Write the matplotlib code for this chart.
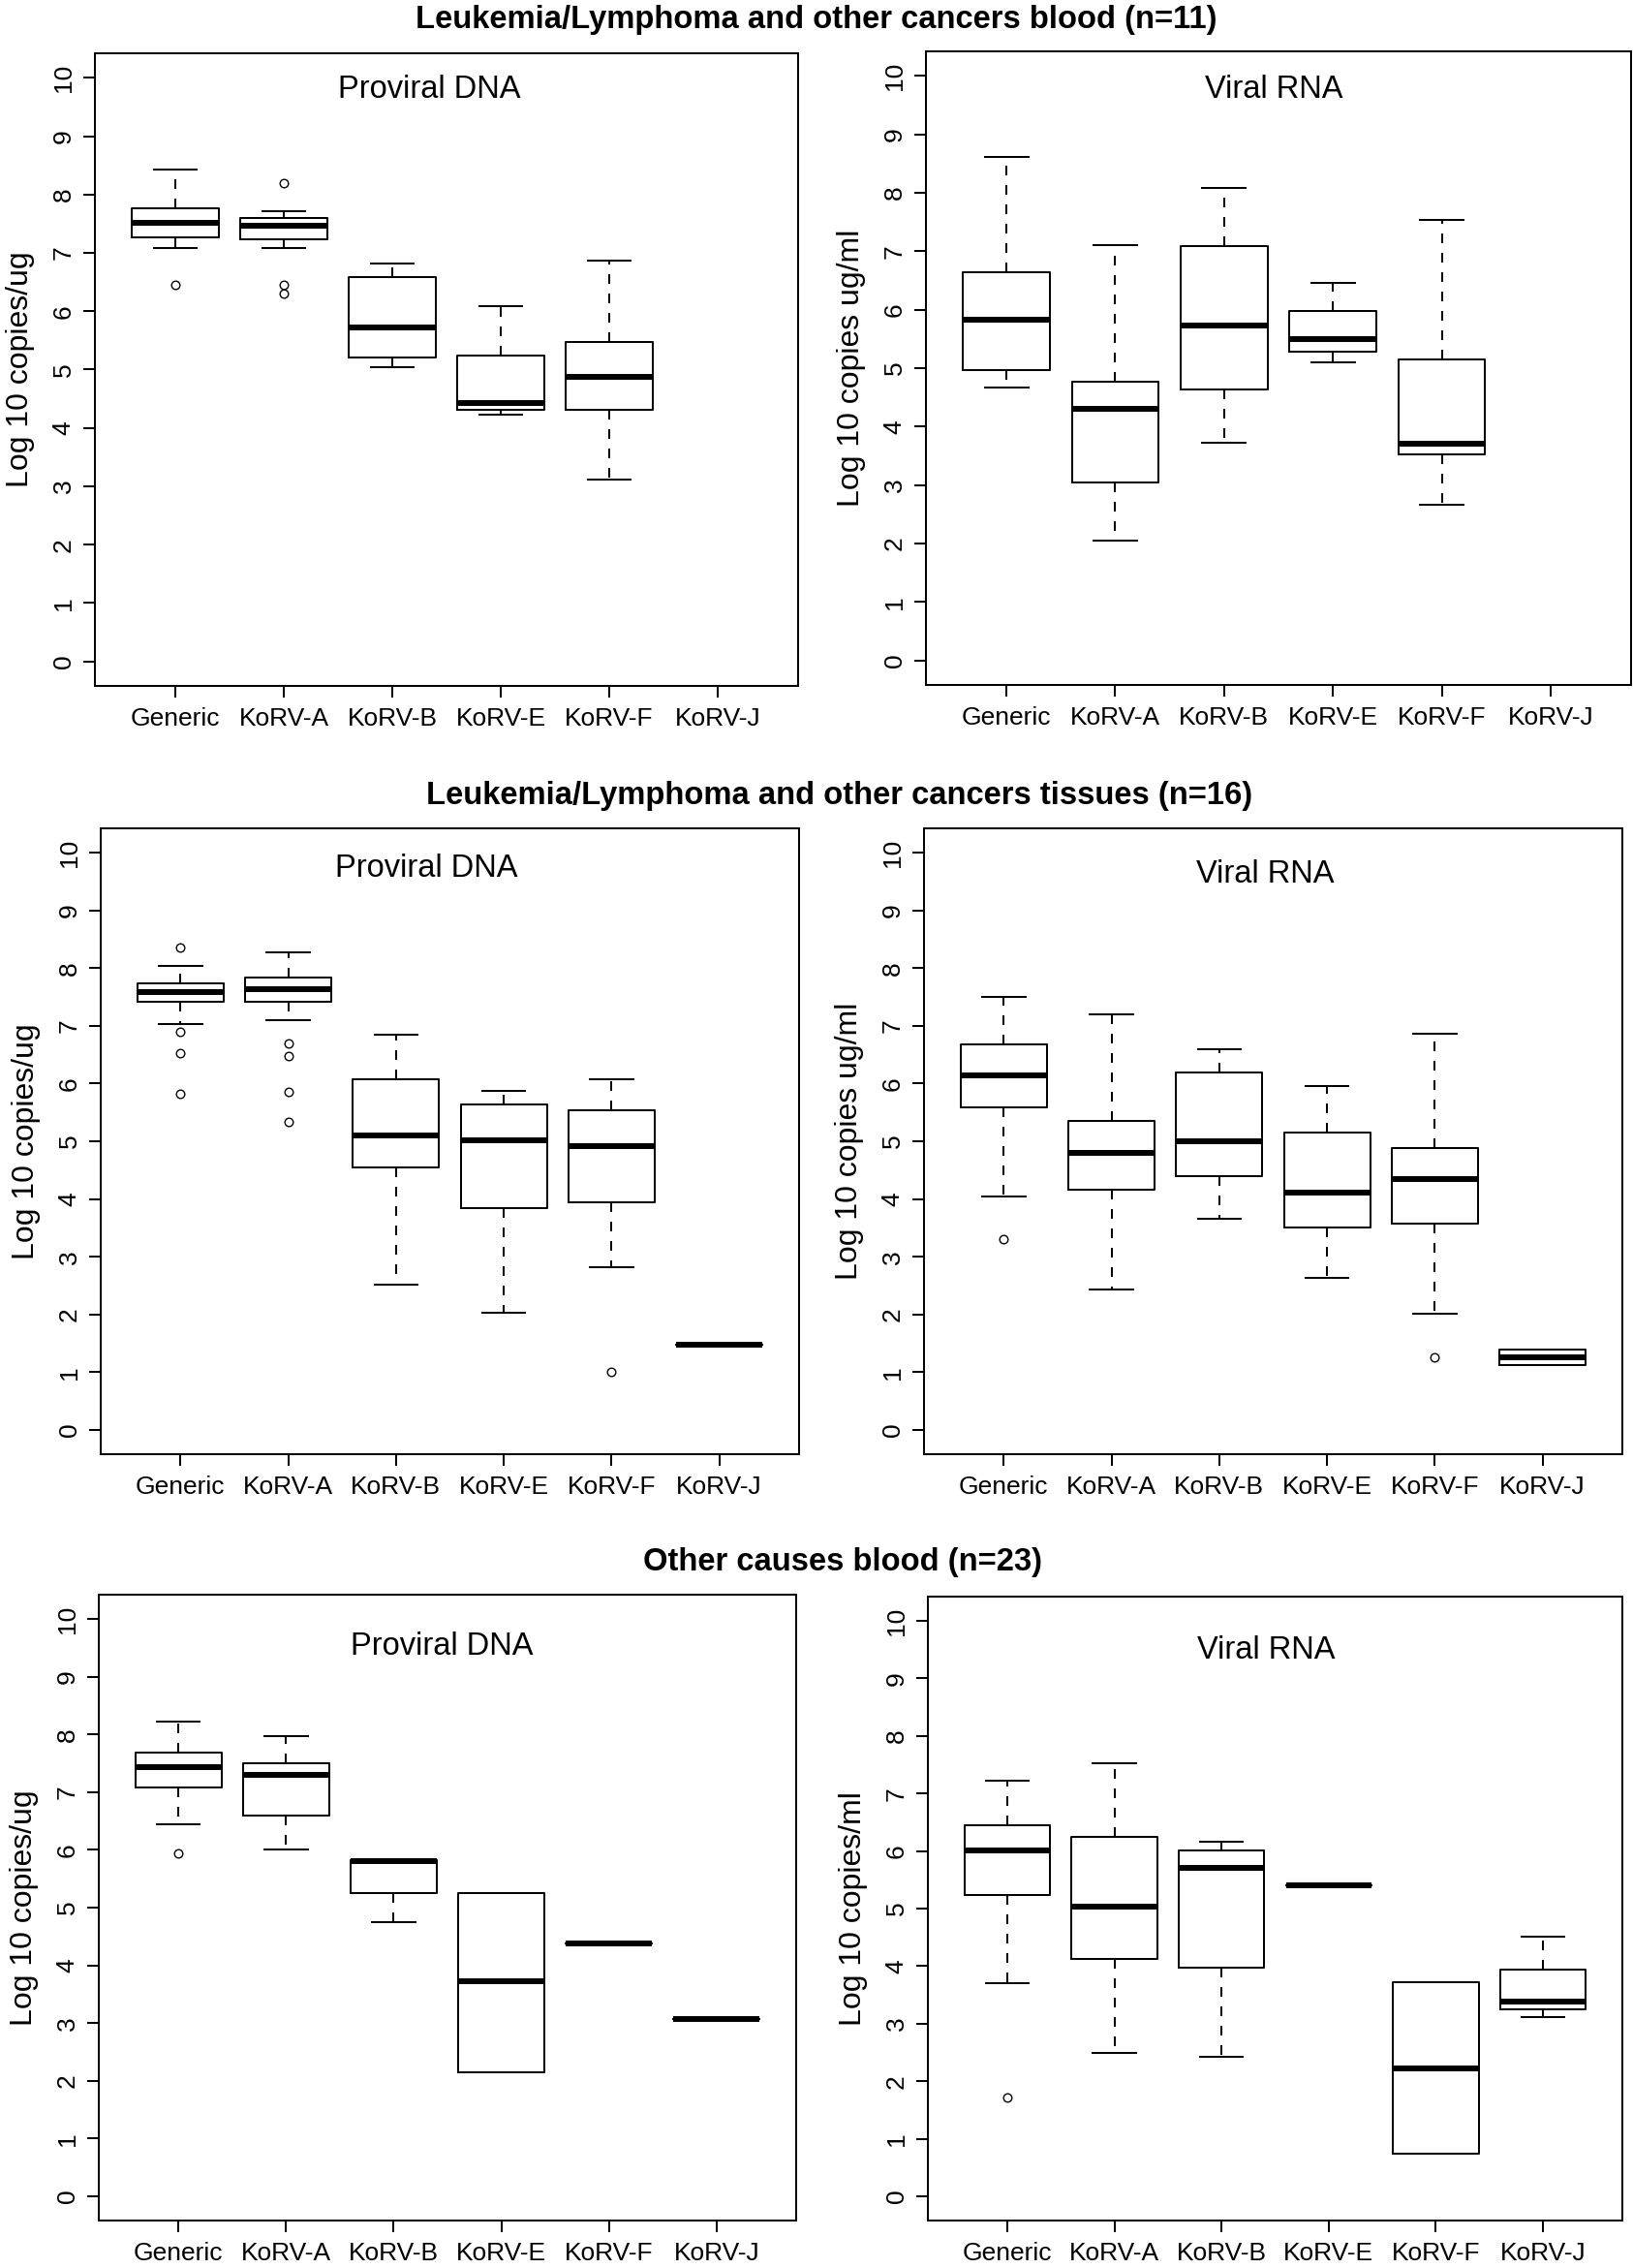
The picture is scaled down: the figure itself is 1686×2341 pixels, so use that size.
import matplotlib
matplotlib.use("Agg")
import matplotlib.pyplot as plt

plt.rcParams['font.family'] = ['Liberation Sans', 'DejaVu Sans']

# ---------------- data ----------------
categories = ["Generic", "KoRV-A", "KoRV-B", "KoRV-E", "KoRV-F", "KoRV-J"]
y_ticks = [0, 1, 2, 3, 4, 5, 6, 7, 8, 9, 10]

row_titles = ["Leukemia/Lymphoma and other cancers blood (n=11)",
              "Leukemia/Lymphoma and other cancers tissues (n=16)",
              "Other causes blood (n=23)"]
panel_labels = ["Proviral DNA", "Viral RNA", "Proviral DNA", "Viral RNA",
                "Proviral DNA", "Viral RNA"]
y_labels = ["Log 10 copies/ug", "Log 10 copies ug/ml", "Log 10 copies/ug",
            "Log 10 copies ug/ml", "Log 10 copies/ug", "Log 10 copies/ml"]

# five-number summaries per category: (lower whisker, Q1, median, Q3, upper whisker)
blood_dna = [(7.09, 7.26, 7.52, 7.77, 8.42), (7.09, 7.24, 7.47, 7.59, 7.72),
             (5.04, 5.21, 5.72, 6.58, 6.81), (4.23, 4.31, 4.42, 5.24, 6.08),
             (3.12, 4.31, 4.87, 5.47, 6.87), None]
blood_dna_out = [[6.45], [8.20, 6.45, 6.31], [], [], [], []]

blood_rna = [(4.67, 4.97, 5.83, 6.64, 8.61), (2.05, 3.04, 4.30, 4.76, 7.11),
             (3.73, 4.63, 5.73, 7.09, 8.08), (5.10, 5.29, 5.49, 5.98, 6.46),
             (2.66, 3.53, 3.71, 5.15, 7.53), None]
blood_rna_out = [[], [], [], [], [], []]

tissue_dna = [(7.03, 7.41, 7.58, 7.73, 8.03), (7.09, 7.42, 7.64, 7.83, 8.28),
              (2.52, 4.55, 5.10, 6.08, 6.84), (2.03, 3.84, 5.01, 5.63, 5.88),
              (2.82, 3.94, 4.92, 5.53, 6.07), (1.47, 1.47, 1.47, 1.47, 1.47)]
tissue_dna_out = [[8.36, 6.90, 6.53, 5.83], [6.70, 6.48, 5.85, 5.34], [], [], [1.01], []]

tissue_rna = [(4.04, 5.59, 6.14, 6.68, 7.50), (2.43, 4.16, 4.80, 5.36, 7.19),
              (3.66, 4.40, 5.00, 6.19, 6.59), (2.64, 3.51, 4.11, 5.15, 5.95),
              (2.01, 3.57, 4.35, 4.89, 6.86), (1.12, 1.12, 1.25, 1.39, 1.39)]
tissue_rna_out = [[3.30], [], [], [], [1.25], []]

other_dna = [(6.44, 7.08, 7.43, 7.69, 8.23), (6.01, 6.60, 7.30, 7.50, 7.97),
             (4.75, 5.26, 5.80, 5.82, 5.82), (2.14, 2.14, 3.72, 5.25, 5.25),
             (4.38, 4.38, 4.38, 4.38, 4.38), (3.07, 3.07, 3.07, 3.07, 3.07)]
other_dna_out = [[5.94], [], [], [], [], []]

other_rna = [(3.71, 5.23, 6.01, 6.44, 7.22), (2.49, 4.13, 5.03, 6.24, 7.53),
             (2.42, 3.97, 5.70, 6.01, 6.16), (5.40, 5.40, 5.40, 5.40, 5.40),
             (0.74, 0.74, 2.22, 3.72, 3.72), (3.12, 3.25, 3.39, 3.94, 4.52)]
other_rna_out = [[1.71], [], [], [], [], []]

# ---------------- layout (pixels) ----------------
W, H = 1686, 2341
panel_boxes = [(98, 55, 824, 708), (956, 53, 1684, 707),
               (104, 855, 825, 1501), (954, 855, 1675, 1501),
               (102, 1646, 822, 2292), (958, 1648, 1675, 2292)]
label_pos = [(3.34, 9.80), (3.46, 9.76), (3.28, 9.72), (3.43, 9.62),
             (3.45, 9.53), (3.42, 9.49)]
title_xy = [(843, 21), (867, 821), (870, 1613)]

LW = 1.44
fig = plt.figure(figsize=(W / 100, H / 100), dpi=100)
fig.patch.set_facecolor("white")

panel_data = [(blood_dna, blood_dna_out), (blood_rna, blood_rna_out),
              (tissue_dna, tissue_dna_out), (tissue_rna, tissue_rna_out),
              (other_dna, other_dna_out), (other_rna, other_rna_out)]

for i, (summ, outl) in enumerate(panel_data):
    l, t, r, b = panel_boxes[i]
    ax = fig.add_axes([l / W, 1 - b / H, (r - l) / W, (b - t) / H])
    stats, pos = [], []
    for k, s in enumerate(summ):
        if s is None:
            continue
        stats.append(dict(whislo=s[0], q1=s[1], med=s[2], q3=s[3], whishi=s[4],
                          fliers=outl[k], label=categories[k]))
        pos.append(k + 1)
    ax.bxp(stats, positions=pos, widths=0.8, showfliers=True, manage_ticks=False,
           boxprops=dict(color="black", linewidth=LW),
           whiskerprops=dict(color="black", linewidth=LW, linestyle=(0, (5, 5))),
           capprops=dict(color="black", linewidth=LW),
           medianprops=dict(color="black", linewidth=4.3, solid_capstyle="butt"),
           flierprops=dict(marker="o", markerfacecolor="none", markeredgecolor="black",
                           markersize=6.2, markeredgewidth=1.0, linestyle="none"))
    ax.set_xlim(0.26, 6.74)
    ax.set_ylim(-0.42, 10.42)
    ax.set_xticks(range(1, len(categories) + 1))
    ax.set_xticklabels(categories, fontsize=19)
    ax.set_yticks(y_ticks)
    ax.set_yticklabels([str(v) for v in y_ticks], fontsize=19, rotation=90, va="center")
    ax.tick_params(axis="both", direction="out", length=8.6, width=LW, color="black")
    ax.tick_params(axis="x", pad=7)
    ax.tick_params(axis="y", pad=6)
    for sp in ax.spines.values():
        sp.set_linewidth(LW)
        sp.set_color("black")
    ax.set_ylabel(y_labels[i], fontsize=23, va="center")
    ax.yaxis.set_label_coords(-77.0 / (r - l), 0.5)
    tx, ty = label_pos[i]
    ax.text(tx, ty, panel_labels[i], ha="center", va="center", fontsize=23.5)

for k, ttl in enumerate(row_titles):
    tx, ty = title_xy[k]
    fig.text(tx / W, 1 - ty / H, ttl, ha="center", va="center",
             fontsize=23.6, fontweight="bold")

fig.savefig("out.png", dpi=100, facecolor="white")
